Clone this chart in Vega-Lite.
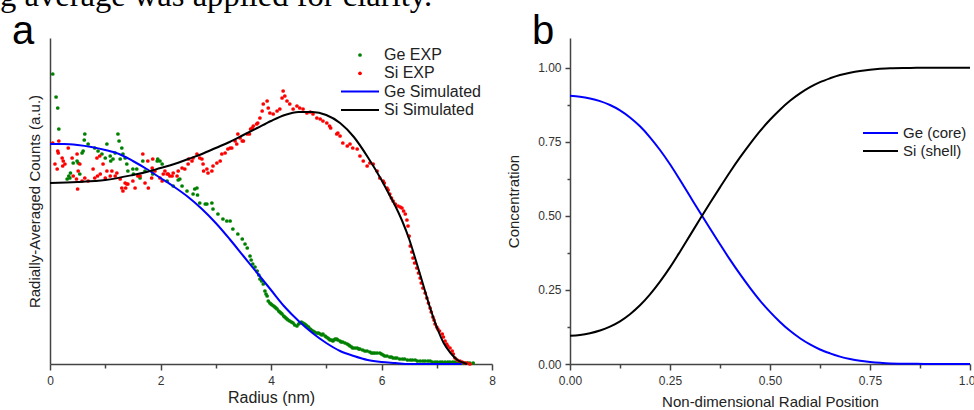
{
"$schema": "https://vega.github.io/schema/vega-lite/v6.json",
"background": "white",
"padding": {"left": 0, "top": -20, "right": 0, "bottom": 0},
"title": {"text": "g average was applied for clarity.", "anchor": "start", "frame": "bounds", "font": "Liberation Serif", "fontSize": 32.6, "fontWeight": "normal", "color": "#000", "baseline": "alphabetic", "offset": -27, "dx": -12},
"config": {
  "view": {"stroke": null},
  "axis": {"domainColor": "#444", "tickColor": "#444", "labelColor": "#333", "titleColor": "#222", "labelFont": "Liberation Sans", "titleFont": "Liberation Sans", "titleFontWeight": "normal", "grid": false, "labelFontSize": 12, "domainWidth": 1.5, "tickWidth": 1.5, "labelFlush": false},
  "legend": {"labelFont": "Liberation Sans", "labelColor": "#222", "padding": 0, "clipHeight": 16, "title": null}
},
"resolve": {"scale": {"stroke": "independent", "fill": "independent"}, "legend": {"stroke": "independent", "fill": "independent"}},
"datasets": {
"aexp": [
{"r":0.05,"v":290,"s":"Ge EXP"},{"r":0.11,"v":267,"s":"Ge EXP"},{"r":0.14,"v":256,"s":"Ge EXP"},{"r":0.16,"v":235,"s":"Ge EXP"},{"r":0.31,"v":185,"s":"Ge EXP"},{"r":0.34,"v":188,"s":"Ge EXP"},{"r":0.36,"v":186,"s":"Ge EXP"},{"r":0.37,"v":191,"s":"Ge EXP"},{"r":0.42,"v":201,"s":"Ge EXP"},{"r":0.49,"v":203,"s":"Ge EXP"},{"r":0.51,"v":201,"s":"Ge EXP"},{"r":0.54,"v":190,"s":"Ge EXP"},{"r":0.58,"v":211,"s":"Ge EXP"},{"r":0.60,"v":213,"s":"Ge EXP"},{"r":0.62,"v":224,"s":"Ge EXP"},{"r":0.63,"v":230,"s":"Ge EXP"},{"r":0.69,"v":220,"s":"Ge EXP"},{"r":0.81,"v":216,"s":"Ge EXP"},{"r":0.87,"v":213,"s":"Ge EXP"},{"r":0.94,"v":210,"s":"Ge EXP"},{"r":1.00,"v":206,"s":"Ge EXP"},{"r":1.03,"v":220,"s":"Ge EXP"},{"r":1.09,"v":208,"s":"Ge EXP"},{"r":1.10,"v":203,"s":"Ge EXP"},{"r":1.14,"v":205,"s":"Ge EXP"},{"r":1.18,"v":211,"s":"Ge EXP"},{"r":1.23,"v":230,"s":"Ge EXP"},{"r":1.25,"v":223,"s":"Ge EXP"},{"r":1.27,"v":205,"s":"Ge EXP"},{"r":1.30,"v":216,"s":"Ge EXP"},{"r":1.32,"v":210,"s":"Ge EXP"},{"r":1.36,"v":206,"s":"Ge EXP"},{"r":1.39,"v":200,"s":"Ge EXP"},{"r":1.41,"v":193,"s":"Ge EXP"},{"r":1.50,"v":195,"s":"Ge EXP"},{"r":1.51,"v":190,"s":"Ge EXP"},{"r":1.57,"v":195,"s":"Ge EXP"},{"r":1.63,"v":186,"s":"Ge EXP"},{"r":1.68,"v":203,"s":"Ge EXP"},{"r":1.72,"v":193,"s":"Ge EXP"},{"r":1.85,"v":193,"s":"Ge EXP"},{"r":1.86,"v":190,"s":"Ge EXP"},{"r":1.94,"v":203,"s":"Ge EXP"},{"r":1.95,"v":205,"s":"Ge EXP"},{"r":1.99,"v":203,"s":"Ge EXP"},{"r":2.03,"v":200,"s":"Ge EXP"},{"r":2.12,"v":183,"s":"Ge EXP"},{"r":2.23,"v":178,"s":"Ge EXP"},{"r":2.32,"v":184,"s":"Ge EXP"},{"r":2.35,"v":185,"s":"Ge EXP"},{"r":2.39,"v":178,"s":"Ge EXP"},{"r":2.48,"v":173,"s":"Ge EXP"},{"r":2.59,"v":170,"s":"Ge EXP"},{"r":2.62,"v":175,"s":"Ge EXP"},{"r":2.66,"v":176,"s":"Ge EXP"},{"r":2.67,"v":169,"s":"Ge EXP"},{"r":2.71,"v":161,"s":"Ge EXP"},{"r":2.81,"v":160,"s":"Ge EXP"},{"r":2.84,"v":160,"s":"Ge EXP"},{"r":2.93,"v":161,"s":"Ge EXP"},{"r":2.95,"v":155,"s":"Ge EXP"},{"r":3.04,"v":150,"s":"Ge EXP"},{"r":3.13,"v":145,"s":"Ge EXP"},{"r":3.20,"v":143,"s":"Ge EXP"},{"r":3.26,"v":143,"s":"Ge EXP"},{"r":3.31,"v":135,"s":"Ge EXP"},{"r":3.40,"v":130,"s":"Ge EXP"},{"r":3.48,"v":125,"s":"Ge EXP"},{"r":3.53,"v":120,"s":"Ge EXP"},{"r":3.57,"v":116,"s":"Ge EXP"},{"r":3.62,"v":108,"s":"Ge EXP"},{"r":3.67,"v":100,"s":"Ge EXP"},{"r":3.75,"v":93,"s":"Ge EXP"},{"r":3.80,"v":85,"s":"Ge EXP"},{"r":3.86,"v":80,"s":"Ge EXP"},{"r":3.89,"v":73,"s":"Ge EXP"},{"r":3.93,"v":68,"s":"Ge EXP"},{"r":3.95,"v":63,"s":"Ge EXP"},{"r":3.98,"v":61,"s":"Ge EXP"},{"r":4.02,"v":59,"s":"Ge EXP"},{"r":4.07,"v":57,"s":"Ge EXP"},{"r":4.11,"v":55,"s":"Ge EXP"},{"r":4.16,"v":52,"s":"Ge EXP"},{"r":4.20,"v":50,"s":"Ge EXP"},{"r":4.25,"v":47,"s":"Ge EXP"},{"r":4.29,"v":45,"s":"Ge EXP"},{"r":4.34,"v":43,"s":"Ge EXP"},{"r":4.40,"v":41,"s":"Ge EXP"},{"r":4.43,"v":39,"s":"Ge EXP"},{"r":4.47,"v":38,"s":"Ge EXP"},{"r":4.52,"v":41,"s":"Ge EXP"},{"r":4.58,"v":41,"s":"Ge EXP"},{"r":4.61,"v":40,"s":"Ge EXP"},{"r":4.65,"v":38,"s":"Ge EXP"},{"r":4.71,"v":35,"s":"Ge EXP"},{"r":4.76,"v":33,"s":"Ge EXP"},{"r":4.83,"v":31,"s":"Ge EXP"},{"r":4.89,"v":30,"s":"Ge EXP"},{"r":4.94,"v":30,"s":"Ge EXP"},{"r":4.98,"v":28,"s":"Ge EXP"},{"r":5.03,"v":26,"s":"Ge EXP"},{"r":5.07,"v":24,"s":"Ge EXP"},{"r":5.12,"v":23,"s":"Ge EXP"},{"r":5.16,"v":25,"s":"Ge EXP"},{"r":5.19,"v":25,"s":"Ge EXP"},{"r":5.25,"v":23,"s":"Ge EXP"},{"r":5.30,"v":22,"s":"Ge EXP"},{"r":5.38,"v":20,"s":"Ge EXP"},{"r":5.43,"v":18,"s":"Ge EXP"},{"r":5.48,"v":16,"s":"Ge EXP"},{"r":5.56,"v":16,"s":"Ge EXP"},{"r":5.61,"v":15,"s":"Ge EXP"},{"r":5.66,"v":14,"s":"Ge EXP"},{"r":5.74,"v":13,"s":"Ge EXP"},{"r":5.79,"v":12,"s":"Ge EXP"},{"r":5.85,"v":11,"s":"Ge EXP"},{"r":5.92,"v":11,"s":"Ge EXP"},{"r":5.97,"v":11,"s":"Ge EXP"},{"r":6.03,"v":9,"s":"Ge EXP"},{"r":6.10,"v":8,"s":"Ge EXP"},{"r":6.15,"v":7,"s":"Ge EXP"},{"r":6.21,"v":6,"s":"Ge EXP"},{"r":6.28,"v":6,"s":"Ge EXP"},{"r":6.33,"v":5,"s":"Ge EXP"},{"r":6.42,"v":5,"s":"Ge EXP"},{"r":6.52,"v":4,"s":"Ge EXP"},{"r":6.61,"v":4,"s":"Ge EXP"},{"r":6.70,"v":3,"s":"Ge EXP"},{"r":6.79,"v":3,"s":"Ge EXP"},{"r":6.88,"v":3,"s":"Ge EXP"},{"r":6.97,"v":2,"s":"Ge EXP"},{"r":7.06,"v":2,"s":"Ge EXP"},{"r":7.15,"v":2,"s":"Ge EXP"},{"r":7.24,"v":2,"s":"Ge EXP"},{"r":7.33,"v":2,"s":"Ge EXP"},{"r":7.42,"v":1,"s":"Ge EXP"},{"r":7.51,"v":1,"s":"Ge EXP"},{"r":7.60,"v":1,"s":"Ge EXP"},{"r":7.66,"v":1,"s":"Ge EXP"},
{"r":3.64,"v":104,"s":"Ge EXP"},{"r":3.71,"v":97,"s":"Ge EXP"},{"r":3.78,"v":89,"s":"Ge EXP"},{"r":3.83,"v":83,"s":"Ge EXP"},{"r":3.91,"v":70,"s":"Ge EXP"},{"r":4.00,"v":60,"s":"Ge EXP"},{"r":4.05,"v":58,"s":"Ge EXP"},{"r":4.09,"v":56,"s":"Ge EXP"},{"r":4.14,"v":53,"s":"Ge EXP"},{"r":4.18,"v":51,"s":"Ge EXP"},{"r":4.23,"v":48,"s":"Ge EXP"},{"r":4.27,"v":46,"s":"Ge EXP"},{"r":4.31,"v":44,"s":"Ge EXP"},{"r":4.37,"v":42,"s":"Ge EXP"},{"r":4.50,"v":40,"s":"Ge EXP"},{"r":4.55,"v":42,"s":"Ge EXP"},{"r":4.63,"v":39,"s":"Ge EXP"},{"r":4.68,"v":37,"s":"Ge EXP"},{"r":4.73,"v":34,"s":"Ge EXP"},{"r":4.79,"v":32,"s":"Ge EXP"},{"r":4.86,"v":31,"s":"Ge EXP"},{"r":4.92,"v":29,"s":"Ge EXP"},{"r":5.00,"v":27,"s":"Ge EXP"},{"r":5.05,"v":25,"s":"Ge EXP"},{"r":5.10,"v":24,"s":"Ge EXP"},{"r":5.14,"v":24,"s":"Ge EXP"},{"r":5.21,"v":24,"s":"Ge EXP"},{"r":5.27,"v":22,"s":"Ge EXP"},{"r":5.34,"v":21,"s":"Ge EXP"},{"r":5.41,"v":19,"s":"Ge EXP"},{"r":5.46,"v":17,"s":"Ge EXP"},{"r":5.52,"v":16,"s":"Ge EXP"},{"r":5.59,"v":15,"s":"Ge EXP"},{"r":5.70,"v":13,"s":"Ge EXP"},{"r":5.82,"v":11,"s":"Ge EXP"},{"r":5.88,"v":11,"s":"Ge EXP"},{"r":6.00,"v":10,"s":"Ge EXP"},{"r":6.06,"v":8,"s":"Ge EXP"},{"r":6.18,"v":7,"s":"Ge EXP"},{"r":6.25,"v":6,"s":"Ge EXP"},{"r":6.38,"v":5,"s":"Ge EXP"},{"r":6.47,"v":4,"s":"Ge EXP"},{"r":6.56,"v":4,"s":"Ge EXP"},{"r":6.65,"v":3,"s":"Ge EXP"},{"r":6.75,"v":3,"s":"Ge EXP"},{"r":6.84,"v":3,"s":"Ge EXP"},{"r":6.92,"v":2,"s":"Ge EXP"},{"r":7.01,"v":2,"s":"Ge EXP"},{"r":7.10,"v":2,"s":"Ge EXP"},{"r":7.20,"v":2,"s":"Ge EXP"},{"r":7.29,"v":2,"s":"Ge EXP"},{"r":7.38,"v":1,"s":"Ge EXP"},{"r":7.47,"v":1,"s":"Ge EXP"},{"r":7.56,"v":1,"s":"Ge EXP"},
{"r":0.05,"v":221,"s":"Si EXP"},{"r":0.09,"v":200,"s":"Si EXP"},{"r":0.13,"v":195,"s":"Si EXP"},{"r":0.14,"v":213,"s":"Si EXP"},{"r":0.15,"v":211,"s":"Si EXP"},{"r":0.16,"v":223,"s":"Si EXP"},{"r":0.22,"v":206,"s":"Si EXP"},{"r":0.23,"v":198,"s":"Si EXP"},{"r":0.24,"v":203,"s":"Si EXP"},{"r":0.27,"v":200,"s":"Si EXP"},{"r":0.33,"v":216,"s":"Si EXP"},{"r":0.40,"v":206,"s":"Si EXP"},{"r":0.42,"v":188,"s":"Si EXP"},{"r":0.49,"v":210,"s":"Si EXP"},{"r":0.48,"v":185,"s":"Si EXP"},{"r":0.50,"v":175,"s":"Si EXP"},{"r":0.51,"v":193,"s":"Si EXP"},{"r":0.54,"v":200,"s":"Si EXP"},{"r":0.58,"v":183,"s":"Si EXP"},{"r":0.63,"v":186,"s":"Si EXP"},{"r":0.69,"v":183,"s":"Si EXP"},{"r":0.78,"v":195,"s":"Si EXP"},{"r":0.81,"v":186,"s":"Si EXP"},{"r":0.85,"v":206,"s":"Si EXP"},{"r":0.86,"v":188,"s":"Si EXP"},{"r":0.90,"v":208,"s":"Si EXP"},{"r":0.91,"v":190,"s":"Si EXP"},{"r":0.96,"v":200,"s":"Si EXP"},{"r":1.00,"v":186,"s":"Si EXP"},{"r":1.03,"v":193,"s":"Si EXP"},{"r":1.09,"v":188,"s":"Si EXP"},{"r":1.12,"v":193,"s":"Si EXP"},{"r":1.18,"v":188,"s":"Si EXP"},{"r":1.21,"v":191,"s":"Si EXP"},{"r":1.27,"v":185,"s":"Si EXP"},{"r":1.30,"v":176,"s":"Si EXP"},{"r":1.32,"v":173,"s":"Si EXP"},{"r":1.36,"v":181,"s":"Si EXP"},{"r":1.37,"v":176,"s":"Si EXP"},{"r":1.39,"v":180,"s":"Si EXP"},{"r":1.41,"v":180,"s":"Si EXP"},{"r":1.50,"v":183,"s":"Si EXP"},{"r":1.54,"v":176,"s":"Si EXP"},{"r":1.59,"v":188,"s":"Si EXP"},{"r":1.63,"v":188,"s":"Si EXP"},{"r":1.68,"v":210,"s":"Si EXP"},{"r":1.72,"v":181,"s":"Si EXP"},{"r":1.77,"v":203,"s":"Si EXP"},{"r":1.78,"v":176,"s":"Si EXP"},{"r":1.85,"v":196,"s":"Si EXP"},{"r":1.84,"v":186,"s":"Si EXP"},{"r":1.86,"v":205,"s":"Si EXP"},{"r":1.90,"v":193,"s":"Si EXP"},{"r":1.99,"v":186,"s":"Si EXP"},{"r":2.03,"v":183,"s":"Si EXP"},{"r":2.05,"v":190,"s":"Si EXP"},{"r":2.08,"v":193,"s":"Si EXP"},{"r":2.12,"v":190,"s":"Si EXP"},{"r":2.14,"v":190,"s":"Si EXP"},{"r":2.17,"v":188,"s":"Si EXP"},{"r":2.21,"v":188,"s":"Si EXP"},{"r":2.23,"v":191,"s":"Si EXP"},{"r":2.30,"v":188,"s":"Si EXP"},{"r":2.32,"v":193,"s":"Si EXP"},{"r":2.39,"v":196,"s":"Si EXP"},{"r":2.44,"v":195,"s":"Si EXP"},{"r":2.50,"v":200,"s":"Si EXP"},{"r":2.51,"v":205,"s":"Si EXP"},{"r":2.57,"v":203,"s":"Si EXP"},{"r":2.59,"v":206,"s":"Si EXP"},{"r":2.66,"v":210,"s":"Si EXP"},{"r":2.71,"v":206,"s":"Si EXP"},{"r":2.75,"v":205,"s":"Si EXP"},{"r":2.77,"v":200,"s":"Si EXP"},{"r":2.78,"v":193,"s":"Si EXP"},{"r":2.84,"v":195,"s":"Si EXP"},{"r":2.86,"v":191,"s":"Si EXP"},{"r":2.93,"v":193,"s":"Si EXP"},{"r":2.95,"v":198,"s":"Si EXP"},{"r":3.02,"v":201,"s":"Si EXP"},{"r":3.08,"v":203,"s":"Si EXP"},{"r":3.11,"v":210,"s":"Si EXP"},{"r":3.17,"v":211,"s":"Si EXP"},{"r":3.22,"v":215,"s":"Si EXP"},{"r":3.26,"v":216,"s":"Si EXP"},{"r":3.29,"v":216,"s":"Si EXP"},{"r":3.35,"v":223,"s":"Si EXP"},{"r":3.38,"v":220,"s":"Si EXP"},{"r":3.40,"v":230,"s":"Si EXP"},{"r":3.44,"v":226,"s":"Si EXP"},{"r":3.48,"v":223,"s":"Si EXP"},{"r":3.50,"v":223,"s":"Si EXP"},{"r":3.57,"v":230,"s":"Si EXP"},{"r":3.61,"v":230,"s":"Si EXP"},{"r":3.63,"v":235,"s":"Si EXP"},{"r":3.66,"v":236,"s":"Si EXP"},{"r":3.68,"v":238,"s":"Si EXP"},{"r":3.74,"v":240,"s":"Si EXP"},{"r":3.76,"v":241,"s":"Si EXP"},{"r":3.80,"v":246,"s":"Si EXP"},{"r":3.84,"v":253,"s":"Si EXP"},{"r":3.86,"v":260,"s":"Si EXP"},{"r":3.93,"v":263,"s":"Si EXP"},{"r":3.95,"v":256,"s":"Si EXP"},{"r":3.98,"v":251,"s":"Si EXP"},{"r":4.04,"v":250,"s":"Si EXP"},{"r":4.11,"v":253,"s":"Si EXP"},{"r":4.16,"v":255,"s":"Si EXP"},{"r":4.20,"v":266,"s":"Si EXP"},{"r":4.22,"v":273,"s":"Si EXP"},{"r":4.25,"v":268,"s":"Si EXP"},{"r":4.29,"v":263,"s":"Si EXP"},{"r":4.34,"v":260,"s":"Si EXP"},{"r":4.40,"v":255,"s":"Si EXP"},{"r":4.47,"v":258,"s":"Si EXP"},{"r":4.52,"v":256,"s":"Si EXP"},{"r":4.58,"v":255,"s":"Si EXP"},{"r":4.65,"v":251,"s":"Si EXP"},{"r":4.71,"v":252,"s":"Si EXP"},{"r":4.76,"v":250,"s":"Si EXP"},{"r":4.83,"v":246,"s":"Si EXP"},{"r":4.89,"v":245,"s":"Si EXP"},{"r":4.94,"v":243,"s":"Si EXP"},{"r":5.01,"v":241,"s":"Si EXP"},{"r":5.06,"v":238,"s":"Si EXP"},{"r":5.08,"v":236,"s":"Si EXP"},{"r":5.19,"v":230,"s":"Si EXP"},{"r":5.21,"v":231,"s":"Si EXP"},{"r":5.25,"v":228,"s":"Si EXP"},{"r":5.30,"v":221,"s":"Si EXP"},{"r":5.38,"v":218,"s":"Si EXP"},{"r":5.43,"v":220,"s":"Si EXP"},{"r":5.48,"v":216,"s":"Si EXP"},{"r":5.56,"v":215,"s":"Si EXP"},{"r":5.61,"v":208,"s":"Si EXP"},{"r":5.67,"v":203,"s":"Si EXP"},{"r":5.74,"v":198,"s":"Si EXP"},{"r":5.79,"v":201,"s":"Si EXP"},{"r":5.85,"v":200,"s":"Si EXP"},{"r":5.92,"v":193,"s":"Si EXP"},{"r":5.97,"v":186,"s":"Si EXP"},{"r":6.03,"v":183,"s":"Si EXP"},{"r":6.10,"v":176,"s":"Si EXP"},{"r":6.15,"v":170,"s":"Si EXP"},{"r":6.21,"v":163,"s":"Si EXP"},{"r":6.30,"v":158,"s":"Si EXP"},{"r":6.37,"v":156,"s":"Si EXP"},{"r":6.43,"v":150,"s":"Si EXP"},{"r":6.48,"v":138,"s":"Si EXP"},{"r":6.52,"v":118,"s":"Si EXP"},{"r":6.57,"v":106,"s":"Si EXP"},{"r":6.64,"v":96,"s":"Si EXP"},{"r":6.70,"v":86,"s":"Si EXP"},{"r":6.75,"v":76,"s":"Si EXP"},{"r":6.82,"v":66,"s":"Si EXP"},{"r":6.88,"v":56,"s":"Si EXP"},{"r":6.93,"v":47,"s":"Si EXP"},{"r":6.97,"v":40,"s":"Si EXP"},{"r":7.02,"v":35,"s":"Si EXP"},{"r":7.10,"v":30,"s":"Si EXP"},{"r":7.15,"v":23,"s":"Si EXP"},{"r":7.20,"v":18,"s":"Si EXP"},{"r":7.28,"v":13,"s":"Si EXP"},{"r":7.33,"v":6,"s":"Si EXP"},{"r":7.42,"v":3,"s":"Si EXP"},{"r":7.51,"v":1,"s":"Si EXP"},{"r":7.60,"v":0,"s":"Si EXP"},
{"r":6.05,"v":181,"s":"Si EXP"},{"r":6.12,"v":174,"s":"Si EXP"},{"r":6.18,"v":166,"s":"Si EXP"},{"r":6.25,"v":160,"s":"Si EXP"},{"r":6.34,"v":157,"s":"Si EXP"},{"r":6.40,"v":153,"s":"Si EXP"},{"r":6.46,"v":144,"s":"Si EXP"},{"r":6.50,"v":128,"s":"Si EXP"},{"r":6.55,"v":112,"s":"Si EXP"},{"r":6.60,"v":101,"s":"Si EXP"},{"r":6.67,"v":91,"s":"Si EXP"},{"r":6.72,"v":81,"s":"Si EXP"},{"r":6.79,"v":71,"s":"Si EXP"},{"r":6.85,"v":61,"s":"Si EXP"},{"r":6.90,"v":52,"s":"Si EXP"},{"r":6.95,"v":44,"s":"Si EXP"},{"r":7.00,"v":37,"s":"Si EXP"},{"r":7.05,"v":33,"s":"Si EXP"},{"r":7.12,"v":27,"s":"Si EXP"},{"r":7.18,"v":20,"s":"Si EXP"},{"r":7.24,"v":16,"s":"Si EXP"},{"r":7.30,"v":10,"s":"Si EXP"},{"r":7.37,"v":4,"s":"Si EXP"},{"r":7.46,"v":2,"s":"Si EXP"},{"r":7.55,"v":1,"s":"Si EXP"}
],
"asim": [
{"r":0,"v":220,"s":"Ge Simulated"},{"r":0.25,"v":220,"s":"Ge Simulated"},{"r":0.5,"v":219,"s":"Ge Simulated"},{"r":0.75,"v":217,"s":"Ge Simulated"},{"r":1.0,"v":214,"s":"Ge Simulated"},{"r":1.25,"v":210,"s":"Ge Simulated"},{"r":1.5,"v":203,"s":"Ge Simulated"},{"r":1.75,"v":195,"s":"Ge Simulated"},{"r":2.0,"v":186,"s":"Ge Simulated"},{"r":2.25,"v":177,"s":"Ge Simulated"},{"r":2.5,"v":167,"s":"Ge Simulated"},{"r":2.75,"v":155,"s":"Ge Simulated"},{"r":3.0,"v":141,"s":"Ge Simulated"},{"r":3.25,"v":125,"s":"Ge Simulated"},{"r":3.5,"v":108,"s":"Ge Simulated"},{"r":3.75,"v":91,"s":"Ge Simulated"},{"r":4.0,"v":74,"s":"Ge Simulated"},{"r":4.25,"v":57,"s":"Ge Simulated"},{"r":4.5,"v":43,"s":"Ge Simulated"},{"r":4.75,"v":31,"s":"Ge Simulated"},{"r":5.0,"v":21,"s":"Ge Simulated"},{"r":5.25,"v":13,"s":"Ge Simulated"},{"r":5.5,"v":8,"s":"Ge Simulated"},{"r":5.75,"v":4,"s":"Ge Simulated"},{"r":6.0,"v":2,"s":"Ge Simulated"},{"r":6.25,"v":1,"s":"Ge Simulated"},{"r":6.5,"v":0,"s":"Ge Simulated"},{"r":7.0,"v":0,"s":"Ge Simulated"},{"r":7.45,"v":0,"s":"Ge Simulated"},
{"r":0,"v":181,"s":"Si Simulated"},{"r":0.5,"v":182,"s":"Si Simulated"},{"r":1.0,"v":184,"s":"Si Simulated"},{"r":1.5,"v":189,"s":"Si Simulated"},{"r":1.75,"v":192,"s":"Si Simulated"},{"r":2.0,"v":196,"s":"Si Simulated"},{"r":2.25,"v":200,"s":"Si Simulated"},{"r":2.5,"v":205,"s":"Si Simulated"},{"r":2.75,"v":210,"s":"Si Simulated"},{"r":3.0,"v":216,"s":"Si Simulated"},{"r":3.25,"v":222,"s":"Si Simulated"},{"r":3.5,"v":229,"s":"Si Simulated"},{"r":3.75,"v":236,"s":"Si Simulated"},{"r":4.0,"v":243,"s":"Si Simulated"},{"r":4.25,"v":249,"s":"Si Simulated"},{"r":4.5,"v":252,"s":"Si Simulated"},{"r":4.75,"v":252,"s":"Si Simulated"},{"r":5.0,"v":249,"s":"Si Simulated"},{"r":5.25,"v":241,"s":"Si Simulated"},{"r":5.5,"v":227,"s":"Si Simulated"},{"r":5.75,"v":207,"s":"Si Simulated"},{"r":6.0,"v":184,"s":"Si Simulated"},{"r":6.125,"v":171,"s":"Si Simulated"},{"r":6.25,"v":158,"s":"Si Simulated"},{"r":6.375,"v":143,"s":"Si Simulated"},{"r":6.5,"v":125,"s":"Si Simulated"},{"r":6.625,"v":103,"s":"Si Simulated"},{"r":6.75,"v":80,"s":"Si Simulated"},{"r":6.875,"v":57,"s":"Si Simulated"},{"r":7.0,"v":37,"s":"Si Simulated"},{"r":7.125,"v":21,"s":"Si Simulated"},{"r":7.25,"v":11,"s":"Si Simulated"},{"r":7.375,"v":4,"s":"Si Simulated"},{"r":7.5,"v":1,"s":"Si Simulated"},{"r":7.55,"v":0,"s":"Si Simulated"}
],
"bsim": [
{"t":0,"c":0.905,"s":"Ge (core)"},{"t":0.025,"c":0.902,"s":"Ge (core)"},{"t":0.05,"c":0.896,"s":"Ge (core)"},{"t":0.075,"c":0.887,"s":"Ge (core)"},{"t":0.1,"c":0.874,"s":"Ge (core)"},{"t":0.125,"c":0.856,"s":"Ge (core)"},{"t":0.15,"c":0.832,"s":"Ge (core)"},{"t":0.175,"c":0.802,"s":"Ge (core)"},{"t":0.2,"c":0.765,"s":"Ge (core)"},{"t":0.225,"c":0.722,"s":"Ge (core)"},{"t":0.25,"c":0.674,"s":"Ge (core)"},{"t":0.275,"c":0.621,"s":"Ge (core)"},{"t":0.3,"c":0.566,"s":"Ge (core)"},{"t":0.325,"c":0.511,"s":"Ge (core)"},{"t":0.35,"c":0.457,"s":"Ge (core)"},{"t":0.375,"c":0.404,"s":"Ge (core)"},{"t":0.4,"c":0.352,"s":"Ge (core)"},{"t":0.425,"c":0.303,"s":"Ge (core)"},{"t":0.45,"c":0.257,"s":"Ge (core)"},{"t":0.475,"c":0.214,"s":"Ge (core)"},{"t":0.5,"c":0.176,"s":"Ge (core)"},{"t":0.525,"c":0.142,"s":"Ge (core)"},{"t":0.55,"c":0.112,"s":"Ge (core)"},{"t":0.575,"c":0.087,"s":"Ge (core)"},{"t":0.6,"c":0.066,"s":"Ge (core)"},{"t":0.625,"c":0.049,"s":"Ge (core)"},{"t":0.65,"c":0.036,"s":"Ge (core)"},{"t":0.675,"c":0.025,"s":"Ge (core)"},{"t":0.7,"c":0.017,"s":"Ge (core)"},{"t":0.725,"c":0.011,"s":"Ge (core)"},{"t":0.75,"c":0.007,"s":"Ge (core)"},{"t":0.775,"c":0.004,"s":"Ge (core)"},{"t":0.8,"c":0.002,"s":"Ge (core)"},{"t":0.85,"c":0.001,"s":"Ge (core)"},{"t":0.9,"c":0,"s":"Ge (core)"},{"t":0.95,"c":0,"s":"Ge (core)"},{"t":1.0,"c":0,"s":"Ge (core)"},
{"t":0,"c":0.095,"s":"Si (shell)"},{"t":0.025,"c":0.098,"s":"Si (shell)"},{"t":0.05,"c":0.104,"s":"Si (shell)"},{"t":0.075,"c":0.113,"s":"Si (shell)"},{"t":0.1,"c":0.126,"s":"Si (shell)"},{"t":0.125,"c":0.144,"s":"Si (shell)"},{"t":0.15,"c":0.168,"s":"Si (shell)"},{"t":0.175,"c":0.198,"s":"Si (shell)"},{"t":0.2,"c":0.235,"s":"Si (shell)"},{"t":0.225,"c":0.278,"s":"Si (shell)"},{"t":0.25,"c":0.326,"s":"Si (shell)"},{"t":0.275,"c":0.379,"s":"Si (shell)"},{"t":0.3,"c":0.434,"s":"Si (shell)"},{"t":0.325,"c":0.489,"s":"Si (shell)"},{"t":0.35,"c":0.543,"s":"Si (shell)"},{"t":0.375,"c":0.596,"s":"Si (shell)"},{"t":0.4,"c":0.648,"s":"Si (shell)"},{"t":0.425,"c":0.697,"s":"Si (shell)"},{"t":0.45,"c":0.743,"s":"Si (shell)"},{"t":0.475,"c":0.786,"s":"Si (shell)"},{"t":0.5,"c":0.824,"s":"Si (shell)"},{"t":0.525,"c":0.858,"s":"Si (shell)"},{"t":0.55,"c":0.888,"s":"Si (shell)"},{"t":0.575,"c":0.913,"s":"Si (shell)"},{"t":0.6,"c":0.934,"s":"Si (shell)"},{"t":0.625,"c":0.951,"s":"Si (shell)"},{"t":0.65,"c":0.964,"s":"Si (shell)"},{"t":0.675,"c":0.975,"s":"Si (shell)"},{"t":0.7,"c":0.983,"s":"Si (shell)"},{"t":0.725,"c":0.989,"s":"Si (shell)"},{"t":0.75,"c":0.993,"s":"Si (shell)"},{"t":0.775,"c":0.996,"s":"Si (shell)"},{"t":0.8,"c":0.998,"s":"Si (shell)"},{"t":0.85,"c":0.999,"s":"Si (shell)"},{"t":0.9,"c":1,"s":"Si (shell)"},{"t":0.95,"c":1,"s":"Si (shell)"},{"t":1.0,"c":1,"s":"Si (shell)"}
]
},
"spacing": 78,
"bounds": "flush",
"hconcat": [
{
  "width": 442, "height": 326,
  "title": {"text": "a", "anchor": "start", "frame": "group", "font": "Liberation Sans", "fontSize": 40, "fontWeight": "normal", "color": "#000", "baseline": "alphabetic", "offset": -46, "dx": -38},
  "layer": [
    {
      "data": {"name": "aexp"},
      "mark": {"type": "point", "filled": true, "size": 14, "opacity": 1, "strokeWidth": 0},
      "encoding": {
        "x": {"field": "r", "type": "quantitative", "scale": {"domain": [0, 8], "nice": false, "zero": false}, "axis": {"orient": "bottom", "values": [0, 2, 4, 6, 8], "format": "d", "title": "Radius (nm)", "titleFontSize": 16, "tickSize": 6, "labelPadding": 5, "titlePadding": 3, "labelFlush": false}},
        "y": {"field": "v", "type": "quantitative", "scale": {"domain": [0, 326], "nice": false}, "axis": {"orient": "left", "ticks": false, "labels": false, "title": "Radially-Averaged Counts (a.u.)", "titleFontSize": 15, "titlePadding": 8}},
        "fill": {"field": "s", "type": "nominal", "sort": null,
          "scale": {"domain": ["Ge EXP", "Si EXP"], "range": ["#008000", "#ff0000"]},
          "legend": {"orient": "none", "legendX": 302, "legendY": 9, "symbolType": "circle", "symbolSize": 14, "symbolStrokeWidth": 0, "rowPadding": 2.3, "labelFontSize": 16, "labelOffset": 16}
        }
      }
    },
    {
      "data": {"name": "asim"},
      "mark": {"type": "line", "strokeWidth": 2, "interpolate": "monotone"},
      "encoding": {
        "x": {"field": "r", "type": "quantitative", "axis": {"orient": "bottom", "values": [1, 3, 5, 7], "labels": false, "domain": false, "tickSize": 4, "title": null}},
        "y": {"field": "v", "type": "quantitative", "axis": null},
        "stroke": {"field": "s", "type": "nominal", "sort": null,
          "scale": {"domain": ["Ge Simulated", "Si Simulated"], "range": ["#0000ff", "#000000"]},
          "legend": {"orient": "none", "legendX": 290, "legendY": 45.6, "symbolType": "stroke", "symbolSize": 1444, "symbolStrokeWidth": 2, "rowPadding": 2.3, "labelFontSize": 16, "labelOffset": 4}
        }
      }
    }
  ],
  "resolve": {"axis": {"x": "independent", "y": "independent"}}
},
{
  "width": 400, "height": 326,
  "title": {"text": "b", "anchor": "start", "frame": "group", "font": "Liberation Sans", "fontSize": 40, "fontWeight": "normal", "color": "#000", "baseline": "alphabetic", "offset": -46, "dx": -38},
  "layer": [
    {
      "data": {"name": "bsim"},
      "transform": [{"filter": "datum.s === 'Ge (core)'"}],
      "mark": {"type": "line", "strokeWidth": 2, "interpolate": "monotone"},
      "encoding": {
        "x": {"field": "t", "type": "quantitative", "scale": {"domain": [0, 1], "nice": false, "zero": false}, "axis": {"orient": "bottom", "values": [0, 0.25, 0.5, 0.75, 1], "format": ".2f", "title": "Non-dimensional Radial Position", "titleFontSize": 15, "tickSize": 6, "labelPadding": 5, "titlePadding": 8, "labelFlush": false}},
        "y": {"field": "c", "type": "quantitative", "scale": {"domain": [0, 1.1], "nice": false}, "axis": {"orient": "left", "values": [0, 0.25, 0.5, 0.75, 1], "format": ".2f", "title": "Concentration", "titleFontSize": 15, "tickSize": 5, "labelPadding": 4, "titlePadding": 16}},
        "stroke": {"field": "s", "type": "nominal", "sort": null,
          "scale": {"domain": ["Ge (core)", "Si (shell)"], "range": ["#0000ff", "#000000"]},
          "legend": {"orient": "none", "legendX": 292, "legendY": 87, "symbolType": "stroke", "symbolSize": 1225, "symbolStrokeWidth": 2, "rowPadding": 2, "labelFontSize": 15, "labelOffset": 4}
        }
      }
    },
    {
      "data": {"name": "bsim"},
      "transform": [{"filter": "datum.s === 'Si (shell)'"}],
      "mark": {"type": "line", "strokeWidth": 2, "interpolate": "monotone"},
      "encoding": {
        "x": {"field": "t", "type": "quantitative", "axis": {"orient": "bottom", "values": [0.125, 0.375, 0.625, 0.875], "labels": false, "domain": false, "tickSize": 4, "title": null}},
        "y": {"field": "c", "type": "quantitative", "axis": {"orient": "left", "values": [0.125, 0.375, 0.625, 0.875], "labels": false, "domain": false, "tickSize": 3, "title": null}},
        "stroke": {"field": "s", "type": "nominal", "sort": null,
          "legend": {"orient": "none", "legendX": 292, "legendY": 87, "symbolType": "stroke", "symbolSize": 1225, "symbolStrokeWidth": 2, "rowPadding": 2, "labelFontSize": 15, "labelOffset": 4}
        }
      }
    }
  ],
  "resolve": {"axis": {"x": "independent", "y": "independent"}}
}
]
}
